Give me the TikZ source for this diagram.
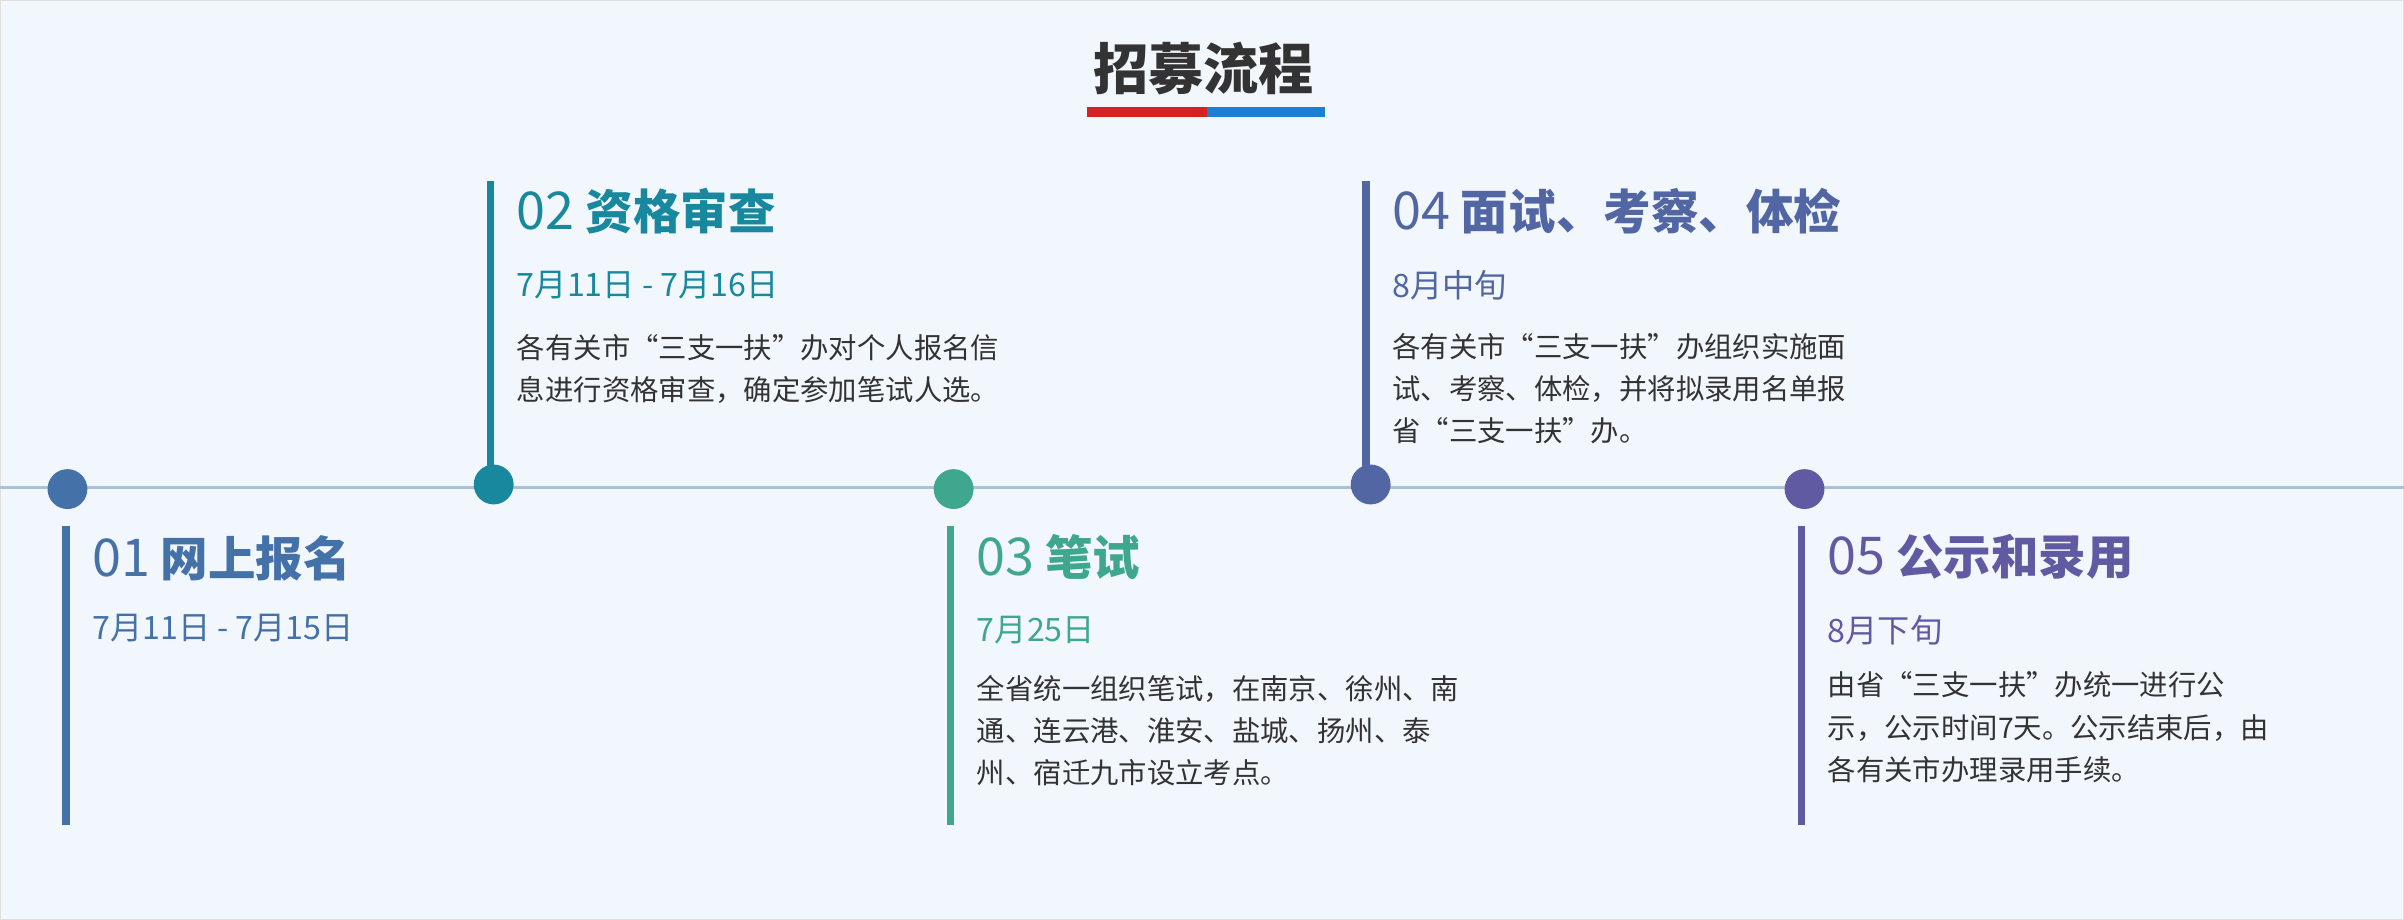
\documentclass[tikz,border=0pt]{standalone}
\usepackage{fontspec}
\setmainfont{Noto Sans CJK SC}
\newfontfamily\cjk{Noto Sans CJK SC}
\definecolor{bg}{HTML}{F2F7FD}
\definecolor{tline}{HTML}{A9C1D6}
\definecolor{cA}{HTML}{4472A8}
\definecolor{cB}{HTML}{17889E}
\definecolor{cC}{HTML}{3EA78E}
\definecolor{cD}{HTML}{5166A3}
\definecolor{cE}{HTML}{5F5AA2}
\definecolor{txt}{HTML}{333333}
\definecolor{red1}{HTML}{D42121}
\definecolor{blue1}{HTML}{1C7FD6}
\tikzset{
  dot/.style={circle,inner sep=0pt,minimum size=26pt},
  ttl/.style={anchor=west,inner sep=0pt,font=\cjk\fontsize{31}{36}\selectfont},
  dte/.style={anchor=west,inner sep=0pt,font=\cjk\fontsize{21}{24}\selectfont},
  body/.style={anchor=north west,inner sep=0pt,align=left,text=txt,font=\cjk\fontsize{18.5}{27.5}\selectfont},
  bar/.style={line width=5pt}
}
\begin{document}
\begin{tikzpicture}[x=1pt,y=-1pt]
\useasboundingbox (0,0) rectangle (1568,600);
\fill[bg] (0,0) rectangle (1568,600);
\draw[black!12] (0.5,0.5) rectangle (1567.5,599.5);
\node[font=\cjk\bfseries\fontsize{36}{40}\selectfont,text=txt] (title) at (785,45) {招募流程};
\fill[red1] (709,70) rectangle (787,76);
\fill[blue1] (787,70) rectangle (864,76);
\coordinate (L) at (0,318);
\coordinate (R) at (1568,318);
\draw[tline,line width=2.5pt] (L) -- (R);
% bars
\draw[bar,cA] (43,343) -- (43,538);
\draw[bar,cB] (320,118) -- (320,305);
\draw[bar,cC] (620,343) -- (620,538);
\draw[bar,cD] (891,118) -- (891,305);
\draw[bar,cE] (1175,343) -- (1175,538);
% dots
\node[dot,fill=cA] (d1) at (44,319) {};
\node[dot,fill=cB] (d2) at (322,316) {};
\node[dot,fill=cC] (d3) at (622,319) {};
\node[dot,fill=cD] (d4) at (894,316) {};
\node[dot,fill=cE] (d5) at (1177,319) {};
% 01
\node[ttl,text=cA] (t1) at (60,364) {{\fontsize{34}{36}\selectfont 01} \bfseries 网上报名};
\node[dte,text=cA] (a1) at (60,410) {7月11日 - 7月15日};
% 02
\node[ttl,text=cB] (t2) at (337,138) {{\fontsize{34}{36}\selectfont 02} \bfseries 资格审查};
\node[dte,text=cB] (a2) at (337,186) {7月11日 - 7月16日};
\node[body] (b2) at (337,218) {各有关市“三支一扶”办对个人报名信\\息进行资格审查，确定参加笔试人选。};
% 03
\node[ttl,text=cC] (t3) at (637,363) {{\fontsize{34}{36}\selectfont 03} \bfseries 笔试};
\node[dte,text=cC] (a3) at (637,411) {7月25日};
\node[body] (b3) at (637,440) {全省统一组织笔试，在南京、徐州、南\\通、连云港、淮安、盐城、扬州、泰\\州、宿迁九市设立考点。};
% 04
\node[ttl,text=cD] (t4) at (908,138) {{\fontsize{34}{36}\selectfont 04} \bfseries 面试、考察、体检};
\node[dte,text=cD] (a4) at (908,186) {8月中旬};
\node[body] (b4) at (908,217) {各有关市“三支一扶”办组织实施面\\试、考察、体检，并将拟录用名单报\\省“三支一扶”办。};
% 05
\node[ttl,text=cE] (t5) at (1192,363) {{\fontsize{34}{36}\selectfont 05} \bfseries 公示和录用};
\node[dte,text=cE] (a5) at (1192,411) {8月下旬};
\node[body] (b5) at (1192,438) {由省“三支一扶”办统一进行公\\示，公示时间7天。公示结束后，由\\各有关市办理录用手续。};
\end{tikzpicture}
\end{document}
